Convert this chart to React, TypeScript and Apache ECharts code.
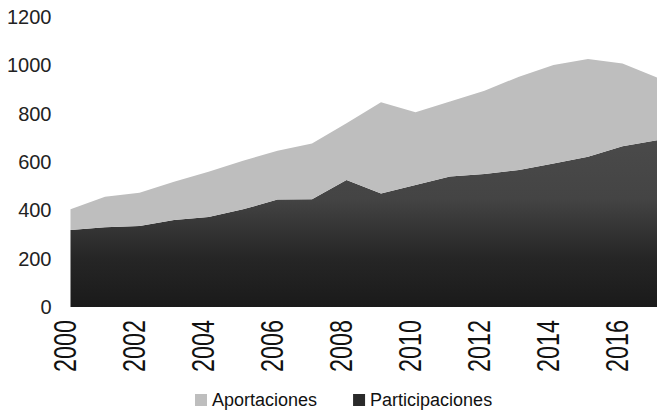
import React, { useEffect, useRef } from "react";
import * as echarts from "echarts";

const years = ["2000","2001","2002","2003","2004","2005","2006","2007","2008","2009","2010","2011","2012","2013","2014","2015","2016","2017"];
const xTickLabels = ["2000","2002","2004","2006","2008","2010","2012","2014","2016"];
const participaciones = [319, 330, 335, 360, 372, 404, 445, 446, 526, 470, 505, 540, 550, 567, 594, 622, 665, 690];
const aportaciones = [85, 126, 138, 158, 188, 201, 202, 231, 234, 377, 301, 310, 345, 386, 407, 404, 343, 260];
const seriesNames = ["Aportaciones", "Participaciones"];
const yTicks = { min: 0, max: 1200, interval: 200 };

export default function App() {
  const ref = useRef<HTMLDivElement>(null);
  useEffect(() => {
    if (!ref.current) return;
    const chart = echarts.init(ref.current, null, { renderer: "svg" });
    const darkGrad = new echarts.graphic.LinearGradient(0, 0, 0, 1, [
      { offset: 0, color: "#4a4a4a" },
      { offset: 0.35, color: "#444444" },
      { offset: 0.7, color: "#262626" },
      { offset: 1, color: "#1a1a1a" },
    ]);
    chart.setOption({
      animation: false,
      backgroundColor: "#ffffff",
      grid: { left: 70.5, right: -8.5, top: 17, bottom: 105, containLabel: false },
      legend: {
        data: seriesNames,
        left: 190,
        top: 386,
        icon: "rect",
        itemWidth: 12,
        itemHeight: 12,
        itemGap: 36,
        textStyle: { fontFamily: "Liberation Sans, Arial, sans-serif", fontSize: 18, color: "#111" },
      },
      xAxis: {
        type: "category",
        data: years,
        boundaryGap: false,
        axisLine: { show: false },
        axisTick: { show: false },
        splitLine: { show: false },
        axisLabel: { show: false },
      },
      yAxis: {
        type: "value",
        min: yTicks.min,
        max: yTicks.max,
        interval: yTicks.interval,
        axisLine: { show: false },
        axisTick: { show: false },
        splitLine: { show: false },
        axisLabel: {
          margin: 19,
          fontFamily: "Liberation Sans, Arial, sans-serif",
          fontSize: 20,
          color: "#222",
          formatter: (v: number) => String(v),
        },
      },
      series: [
        {
          name: "Participaciones",
          type: "line",
          stack: "total",
          data: participaciones,
          symbol: "none",
          lineStyle: { width: 0 },
          itemStyle: { color: "#2a2a2a" },
          areaStyle: { color: darkGrad, opacity: 1 },
        },
        {
          name: "Aportaciones",
          type: "line",
          stack: "total",
          data: aportaciones,
          symbol: "none",
          lineStyle: { width: 0 },
          itemStyle: { color: "#bebebe" },
          areaStyle: { color: "#bebebe", opacity: 1 },
        },
      ],
    });
    const baseY = chart.convertToPixel({ yAxisIndex: 0 }, 0) as number;
    const labels = xTickLabels.map((lab) => {
      const px = chart.convertToPixel({ xAxisIndex: 0 }, lab) as number;
      return {
        type: "text",
        x: px - 5,
        y: baseY + 13,
        rotation: Math.PI / 2,
        scaleX: 0.73,
        scaleY: 1,
        silent: true,
        style: {
          text: lab,
          fontFamily: "Liberation Sans, Arial, sans-serif",
          fontSize: 32,
          fill: "#111",
          align: "right",
          verticalAlign: "middle",
        },
      };
    });
    chart.setOption({ graphic: labels });
    return () => chart.dispose();
  }, []);
  return (
    <div
      ref={ref}
      style={{ position: "fixed", left: 0, top: 0, width: 657, height: 412, overflow: "hidden" }}
    />
  );
}
